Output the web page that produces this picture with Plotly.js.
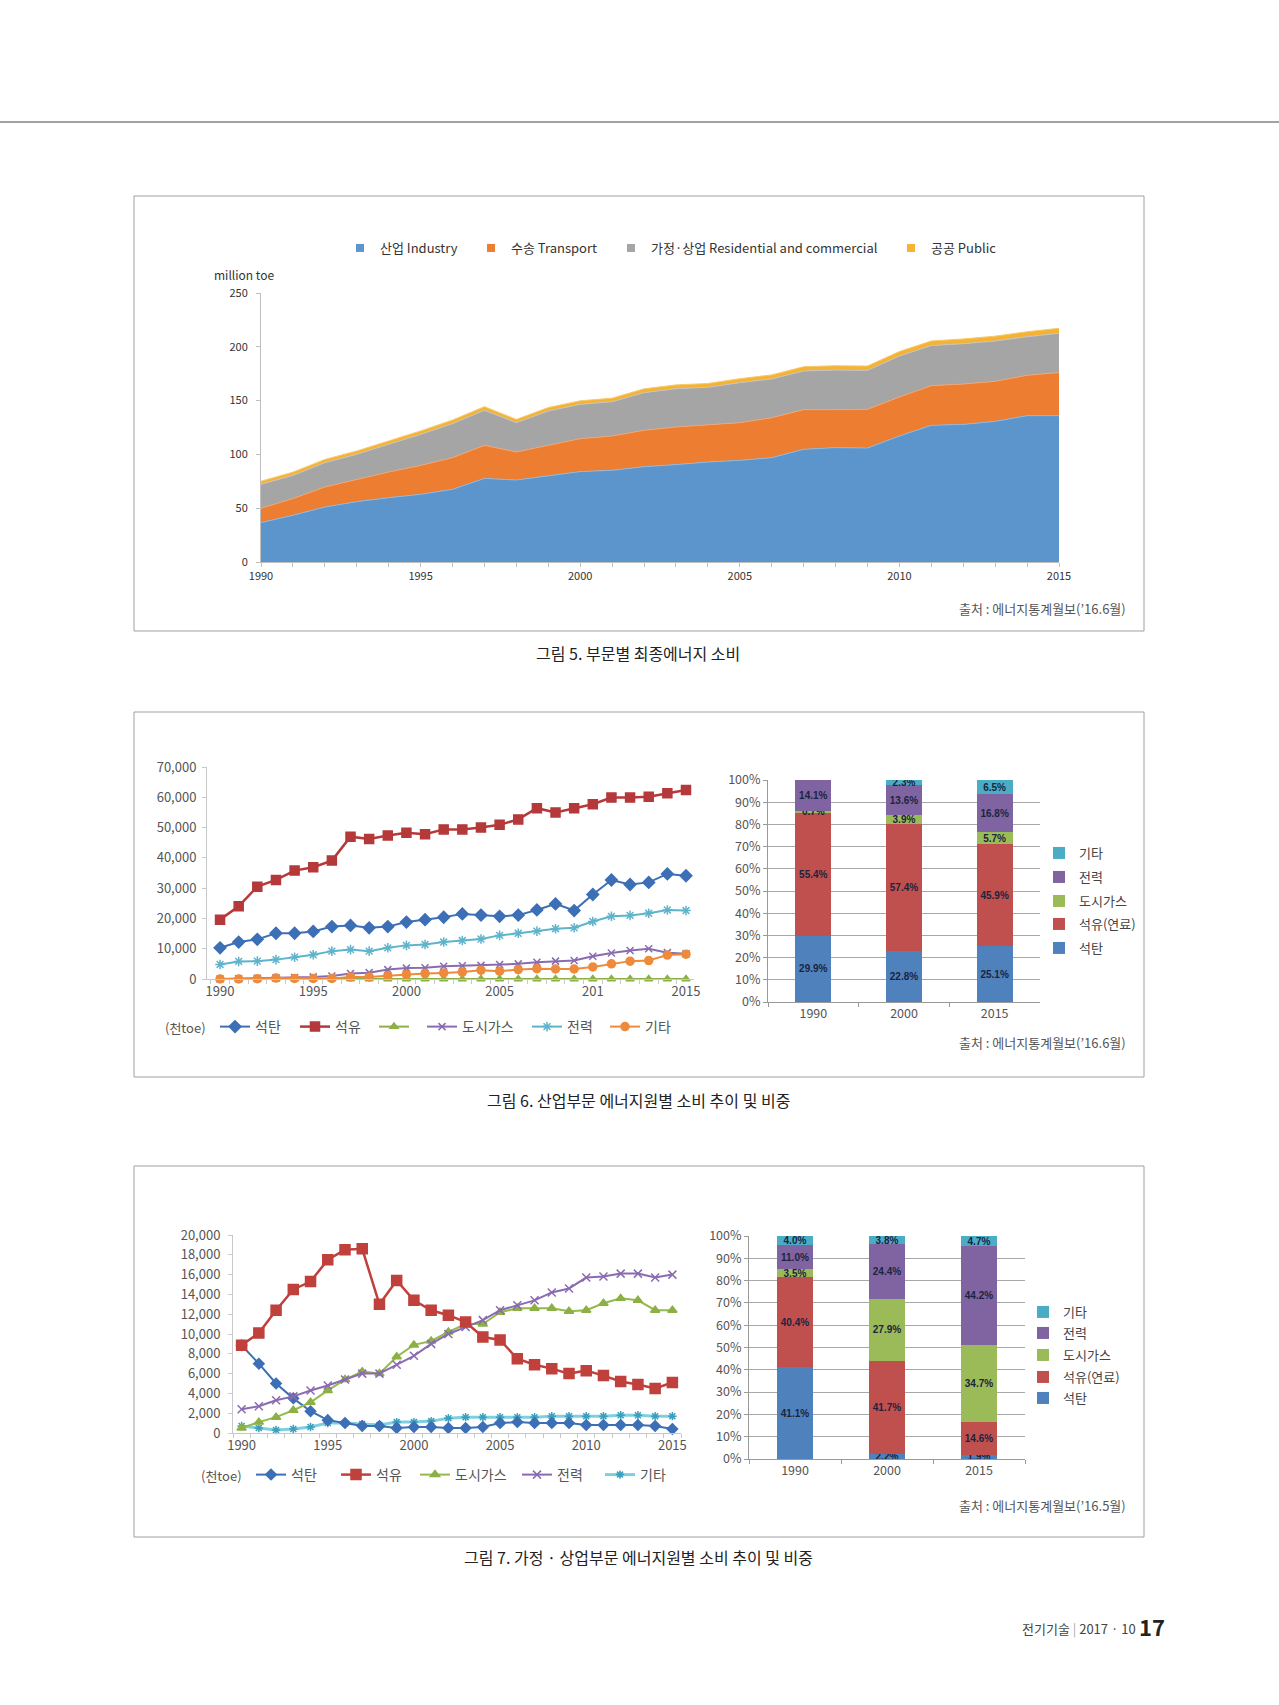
<!DOCTYPE html>
<html><head><meta charset="utf-8">
<script src="https://cdn.plot.ly/plotly-3.0.1.min.js"></script>
<style>html,body{margin:0;padding:0;background:#fff}#chart{width:1279px;height:1705px}</style>
</head><body><div id="chart"></div>
<script>
// ---------- DATA ----------
const years = [1990,1991,1992,1993,1994,1995,1996,1997,1998,1999,2000,2001,2002,2003,2004,2005,2006,2007,2008,2009,2010,2011,2012,2013,2014,2015];

// Figure 5 : final energy consumption by sector (million toe)
const sectorNames = ['산업 Industry','수송 Transport','가정·상업 Residential and commercial','공공 Public'];
const industry    = [36.6,43.4,51.1,56.1,59.8,62.9,67.5,77.7,76.2,79.9,84.0,85.2,88.6,90.5,92.9,94.5,97.0,104.7,106.3,105.9,117.1,127.0,127.9,130.7,136.0,136.0];
const transport   = [13.3,15.5,18.6,20.7,23.8,26.9,29.5,30.7,26.0,28.5,30.6,31.9,33.8,35.0,34.7,35.0,37.1,36.9,35.3,36.0,36.2,36.9,37.5,37.2,37.5,40.0];
const residential = [22.3,21.6,22.6,23.3,25.8,28.8,31.6,32.6,27.3,31.9,31.9,31.9,35.0,35.6,34.7,37.2,36.0,35.9,36.8,36.2,38.1,37.2,37.5,37.5,35.9,36.5];
const publicSec   = [2.9,3.0,3.0,3.1,3.1,3.2,3.3,3.4,3.0,3.2,3.3,3.3,3.5,3.5,3.6,3.7,3.8,4.0,4.0,4.0,4.2,4.3,4.4,4.5,4.6,4.7];

// Figure 6 : industry sector by energy source (천toe)
const fig6LineNames = ['석탄','석유','','도시가스','전력','기타'];
const ind_coal  = [10300,12200,13100,15100,15100,15700,17300,17700,16900,17300,18800,19600,20400,21500,21100,20700,21100,22800,24800,22600,27900,32700,31200,31900,34700,34100];
const ind_oil   = [19600,24000,30500,32700,35800,36900,39100,47000,46200,47400,48300,47800,49400,49400,50000,50900,52700,56400,55000,56400,57700,59900,59900,60200,61300,62400];
const ind_green = [0,0,0,0,0,0,0,0,0,0,0,0,0,0,0,0,0,0,0,0,0,0,0,0,0,0];
const ind_gas   = [0,100,200,400,500,700,1000,1800,2100,3100,3600,3700,4200,4400,4500,4800,5000,5500,5900,6100,7500,8600,9400,10000,8700,8300];
const ind_elec  = [4800,5800,5900,6400,7200,8000,9200,9700,9200,10300,11100,11400,12200,12700,13200,14400,15100,15800,16600,16900,19000,20700,21000,21700,22800,22600];
const ind_other = [0,0,100,300,200,200,200,700,700,1100,1500,1800,2000,2300,2900,2600,3100,3400,3300,3300,4000,5000,5900,6100,7900,8200];
const fig6TickVals = [1990,1995,2000,2005,2010,2015];
const fig6TickText = ['1990','1995','2000','2005','201','2015'];

const shareYears = ['1990','2000','2015'];
const shareNames = ['석탄','석유(연료)','도시가스','전력','기타'];
const ind_share_coal  = [29.9,22.8,25.1];
const ind_share_oil   = [55.4,57.4,45.9];
const ind_share_gas   = [0.7,3.9,5.7];
const ind_share_elec  = [14.1,13.6,16.8];
const ind_share_other = [0.0,2.3,6.5];

// Figure 7 : residential & commercial sector by energy source (천toe)
const fig7LineNames = ['석탄','석유','도시가스','전력','기타'];
const res_coal  = [8860,7000,5000,3500,2200,1300,1000,700,700,500,600,600,500,500,600,1000,1100,1000,1000,1000,800,800,800,800,700,400];
const res_oil   = [8860,10100,12400,14500,15300,17500,18500,18600,13000,15400,13400,12400,11900,11200,9700,9400,7500,6900,6500,6000,6300,5800,5200,4900,4500,5100];
const res_gas   = [500,1100,1600,2300,3100,4300,5400,6200,6000,7700,8900,9300,10200,11000,11000,12200,12600,12600,12600,12300,12400,13100,13600,13400,12400,12400];
const res_elec  = [2400,2700,3300,3700,4300,4800,5400,6000,6000,6900,7800,9000,10000,10700,11400,12400,12900,13400,14200,14600,15700,15800,16100,16100,15700,16000];
const res_other = [700,500,300,400,600,1000,1000,900,800,1100,1100,1200,1500,1600,1600,1600,1600,1600,1700,1700,1700,1700,1800,1800,1700,1700];
const fig7TickVals = [1990,1995,2000,2005,2010,2015];
const fig7TickText = ['1990','1995','2000','2005','2010','2015'];

const res_share_coal  = [41.1,2.2,1.9];
const res_share_oil   = [40.4,41.7,14.6];
const res_share_gas   = [3.5,27.9,34.7];
const res_share_elec  = [11.0,24.4,44.2];
const res_share_other = [4.0,3.8,4.7];

// ---------- LAYOUT HELPERS ----------
const W = 1279, H = 1705;
const X = p => p / W, Y = p => 1 - p / H;
const FONT = '"Noto Sans CJK KR","Noto Sans",sans-serif';
const traces = [];
const layout = {
  width: W, height: H, margin: {l:0, r:0, t:0, b:0},
  paper_bgcolor: '#fff', plot_bgcolor: 'rgba(0,0,0,0)',
  font: {family: FONT, color: '#333'},
  showlegend: true,
  uniformtext: {mode: 'show', minsize: 10},
  shapes: [], annotations: []
};
let legCount = 0;
function newLegend(xpx, ypx, size, color) {
  legCount++;
  const id = legCount === 1 ? 'legend' : 'legend' + legCount;
  layout[id] = {x: X(xpx), y: Y(ypx), xanchor: 'left', yanchor: 'middle', orientation: 'h',
    bgcolor: 'rgba(0,0,0,0)', borderwidth: 0, itemwidth: 30,
    font: {family: FONT, size: size, color: color || '#333'}};
  return id;
}
function ann(text, xpx, ypx, size, color, xanchor, extra) {
  layout.annotations.push(Object.assign({text: text, x: X(xpx), y: Y(ypx), xref: 'paper', yref: 'paper',
    xanchor: xanchor || 'left', yanchor: 'middle', showarrow: false,
    font: {family: FONT, size: size, color: color}}, extra || {}));
}
function box(x0, y0, x1, y1, color, w) {
  layout.shapes.push({type: 'rect', xref: 'paper', yref: 'paper', x0: X(x0), x1: X(x1), y0: Y(y1), y1: Y(y0),
    line: {color: color, width: w || 1}, fillcolor: 'rgba(0,0,0,0)'});
}

// ---------- PAGE FURNITURE ----------
layout.shapes.push({type: 'line', xref: 'paper', yref: 'paper', x0: 0, x1: 1, y0: Y(122), y1: Y(122), line: {color: '#444', width: 1}});
box(134, 196, 1144, 631, '#a0a0a0');
box(134, 712, 1144, 1077, '#a0a0a0');
box(134, 1166, 1144, 1537, '#a0a0a0');

// ---------- FIGURE 5 ----------
const areaFill = ['#5b95cb', '#ed7d31', '#a5a5a5', '#f5b335'];
const areaLine = ['#8cb8e0', '#f3a46e', '#c4c4c4', '#f8c868'];
[industry, transport, residential, publicSec].forEach((s, i) => {
  traces.push({type: 'scatter', x: years, y: s, name: sectorNames[i], stackgroup: 'fig5', mode: 'lines',
    line: {width: 1, color: areaLine[i]}, fillcolor: areaFill[i], xaxis: 'x', yaxis: 'y', showlegend: false, hoverinfo: 'skip'});
});
const fig5LegX = [340, 471, 611, 891];
sectorNames.forEach((n, i) => {
  const lg = newLegend(fig5LegX[i], 248, 13, '#333');
  traces.push({type: 'scatter', x: [null], y: [null], name: n, mode: 'markers',
    marker: {symbol: 'square', size: 8, color: areaFill[i]}, xaxis: 'x', yaxis: 'y', legend: lg});
});
layout.xaxis = {domain: [X(261), X(1059)], anchor: 'y', range: [1990, 2015], tick0: 1990, dtick: 5,
  ticks: 'outside', ticklen: 4, tickcolor: '#bfbfbf', showline: true, linecolor: '#bfbfbf',
  showgrid: false, zeroline: false, tickfont: {size: 11, color: '#333'},
  minor: {tick0: 1990, dtick: 1, ticks: 'outside', ticklen: 4, tickcolor: '#bfbfbf', showgrid: false}};
layout.yaxis = {domain: [Y(562), Y(293)], anchor: 'x', range: [0, 250], dtick: 50,
  ticks: 'outside', ticklen: 4, tickcolor: '#bfbfbf', showline: true, linecolor: '#bfbfbf',
  showgrid: false, zeroline: false, tickfont: {size: 11, color: '#333'}, ticklabelstandoff: 6};
ann('million toe', 212, 275, 12, '#333');
ann('출처 : 에너지통계월보(’16.6월)', 1128, 608, 13, '#555', 'right');
ann('그림 5. 부문별 최종에너지 소비', 638, 653, 16, '#222', 'center');

// ---------- FIGURE 6 (lines) ----------
const f6 = [
  {y: ind_green, color: '#8db046', sym: 'triangle-up', size: 7, w: 2},
  {y: ind_coal,  color: '#3c6fb6', sym: 'diamond', size: 9, w: 2},
  {y: ind_oil,   color: '#b5393a', sym: 'square', size: 9, w: 2.5},
  {y: ind_elec,  color: '#5fb4cc', sym: 'asterisk-open', size: 8, w: 2},
  {y: ind_gas,   color: '#8a6bb0', sym: 'x-thin-open', size: 7, w: 2},
  {y: ind_other, color: '#ee8a3c', sym: 'circle', size: 8, w: 2}
];
const f6NameIdx = [2, 0, 1, 4, 3, 5];
const f6LegX = {0: 215, 1: 295, 2: 374, 3: 422, 4: 527, 5: 605};
f6.forEach((s, k) => {
  const ni = f6NameIdx[k];
  const lg = newLegend(f6LegX[ni], 1027, 14, '#555');
  traces.push({type: 'scatter', x: years, y: s.y, name: fig6LineNames[ni], mode: 'lines+markers',
    line: {color: s.color, width: s.w},
    marker: {symbol: s.sym, size: s.size, color: s.color, line: {color: s.color, width: 1.5}},
    xaxis: 'x2', yaxis: 'y2', legend: lg, cliponaxis: false});
});
layout.xaxis2 = {domain: [X(207), X(694)], anchor: 'y2', range: [1989.3, 2015.43], tickmode: 'array',
  tickvals: fig6TickVals, ticktext: fig6TickText, ticks: '', showline: true, linecolor: '#c8c8c8',
  showgrid: false, zeroline: false, tickfont: {size: 13, color: '#555'},
  minor: {tick0: 1989.5, dtick: 1, ticks: 'outside', ticklen: 4, tickcolor: '#c8c8c8', showgrid: false}};
layout.yaxis2 = {domain: [Y(979), Y(767)], anchor: 'x2', range: [0, 70000], dtick: 10000, tickformat: ',',
  ticks: 'outside', ticklen: 4, tickcolor: '#c8c8c8', showline: true, linecolor: '#c8c8c8',
  showgrid: false, zeroline: false, tickfont: {size: 13, color: '#555'}, ticklabelstandoff: 3};
ann('(천toe)', 163, 1027, 13, '#555');

// ---------- FIGURE 6 (bars) ----------
const barColors = ['#4f81bd', '#c0504d', '#9bbb59', '#8064a2', '#4bacc6'];
const f6bars = [ind_share_coal, ind_share_oil, ind_share_gas, ind_share_elec, ind_share_other];
const f6BarLegY = [948, 924, 901, 877, 853];
f6bars.forEach((s, i) => {
  const lg = newLegend(1039, f6BarLegY[i], 13, '#444');
  traces.push({type: 'bar', x: shareYears, y: s, name: shareNames[i], marker: {color: barColors[i]},
    text: s.map(v => v.toFixed(1) + '%'), textposition: 'inside', insidetextanchor: 'middle', textangle: 0,
    textfont: {family: '"Liberation Sans",sans-serif', size: 10, color: '#1b2440', weight: 'bold'},
    xaxis: 'x3', yaxis: 'y3', legend: lg, hoverinfo: 'skip'});
});
layout.xaxis3 = {domain: [X(768), X(1040)], anchor: 'y3', type: 'category', tickson: 'boundaries',
  ticks: 'outside', ticklen: 4, tickcolor: '#999', showline: true, linecolor: '#999',
  showgrid: false, tickfont: {size: 12.5, color: '#555'}};
layout.yaxis3 = {domain: [Y(1002), Y(780)], anchor: 'x3', range: [0, 100], dtick: 10, ticksuffix: '%',
  ticks: 'outside', ticklen: 4, tickcolor: '#999', showline: true, linecolor: '#999',
  showgrid: true, gridcolor: '#a8a8a8', zeroline: false, tickfont: {size: 12.5, color: '#555'}};
ann('출처 : 에너지통계월보(’16.6월)', 1128, 1042, 13, '#555', 'right');
ann('그림 6. 산업부문 에너지원별 소비 추이 및 비중', 638, 1100, 16, '#222', 'center');

// ---------- FIGURE 7 (lines) ----------
const f7 = [
  {y: res_other, color: '#7fcfe0', mcolor: '#3aa0bd', sym: 'asterisk-open', size: 7, w: 3},
  {y: res_coal,  color: '#3c6fb6', mcolor: '#3c6fb6', sym: 'diamond', size: 8, w: 2},
  {y: res_gas,   color: '#93bb4b', mcolor: '#8db046', sym: 'triangle-up', size: 8, w: 2},
  {y: res_elec,  color: '#8a6bb0', mcolor: '#8a6bb0', sym: 'x-thin-open', size: 8, w: 2},
  {y: res_oil,   color: '#c0403c', mcolor: '#c0403c', sym: 'square', size: 10, w: 2.5}
];
const f7NameIdx = [4, 0, 2, 3, 1];
const f7LegX = {0: 251, 1: 336, 2: 415, 3: 517, 4: 600};
f7.forEach((s, k) => {
  const ni = f7NameIdx[k];
  const lg = newLegend(f7LegX[ni], 1475, 14, '#555');
  traces.push({type: 'scatter', x: years, y: s.y, name: fig7LineNames[ni], mode: 'lines+markers',
    line: {color: s.color, width: s.w},
    marker: {symbol: s.sym, size: s.size, color: s.mcolor, line: {color: s.mcolor, width: 1.5}},
    xaxis: 'x4', yaxis: 'y4', legend: lg, cliponaxis: false});
});
layout.xaxis4 = {domain: [X(233), X(681)], anchor: 'y4', range: [1989.5, 2015.5], tickmode: 'array',
  tickvals: fig7TickVals, ticktext: fig7TickText, ticks: '', showline: true, linecolor: '#c8c8c8',
  showgrid: false, zeroline: false, tickfont: {size: 13, color: '#555'},
  minor: {tick0: 1989.5, dtick: 1, ticks: 'outside', ticklen: 4, tickcolor: '#c8c8c8', showgrid: false}};
layout.yaxis4 = {domain: [Y(1433), Y(1235)], anchor: 'x4', range: [0, 20000], dtick: 2000, tickformat: ',',
  ticks: 'outside', ticklen: 4, tickcolor: '#c8c8c8', showline: true, linecolor: '#c8c8c8',
  showgrid: false, zeroline: false, tickfont: {size: 13, color: '#555'}, ticklabelstandoff: 5};
ann('(천toe)', 199, 1475, 13, '#555');

// ---------- FIGURE 7 (bars) ----------
const f7bars = [res_share_coal, res_share_oil, res_share_gas, res_share_elec, res_share_other];
const f7BarLegY = [1398, 1377, 1355, 1333, 1312];
f7bars.forEach((s, i) => {
  const lg = newLegend(1023, f7BarLegY[i], 13, '#444');
  traces.push({type: 'bar', x: shareYears, y: s, name: shareNames[i], marker: {color: barColors[i]},
    text: s.map(v => v.toFixed(1) + '%'), textposition: 'inside', insidetextanchor: 'middle', textangle: 0,
    textfont: {family: '"Liberation Sans",sans-serif', size: 10, color: '#1b2440', weight: 'bold'},
    xaxis: 'x5', yaxis: 'y5', legend: lg, hoverinfo: 'skip'});
});
layout.xaxis5 = {domain: [X(749), X(1025)], anchor: 'y5', type: 'category', tickson: 'boundaries',
  ticks: 'outside', ticklen: 4, tickcolor: '#999', showline: true, linecolor: '#999',
  showgrid: false, tickfont: {size: 12.5, color: '#555'}};
layout.yaxis5 = {domain: [Y(1459), Y(1236)], anchor: 'x5', range: [0, 100], dtick: 10, ticksuffix: '%',
  ticks: 'outside', ticklen: 4, tickcolor: '#999', showline: true, linecolor: '#999',
  showgrid: true, gridcolor: '#a8a8a8', zeroline: false, tickfont: {size: 12.5, color: '#555'}};
ann('출처 : 에너지통계월보(’16.5월)', 1128, 1505, 13, '#555', 'right');
ann('그림 7. 가정 · 상업부문 에너지원별 소비 추이 및 비중', 638, 1557, 16, '#222', 'center');

// ---------- FOOTER ----------
ann('전기기술 <span style="color:#aaa">|</span> 2017 · 10', 1138, 1628, 13, '#444', 'right');
ann('<b>17</b>', 1167, 1626, 22, '#222', 'right');

layout.barmode = 'stack';
layout.bargap = 0.6;

Plotly.newPlot('chart', traces, layout, {displayModeBar: false, staticPlot: true});
</script></body></html>
